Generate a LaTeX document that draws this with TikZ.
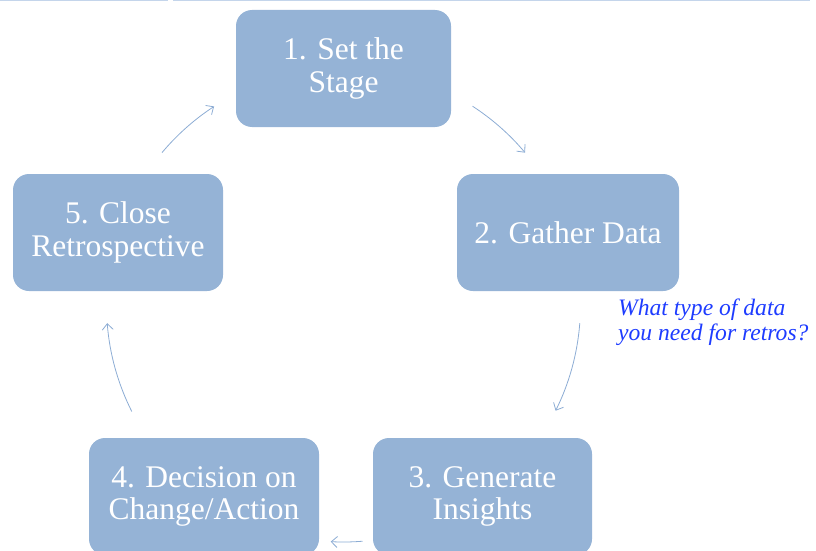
\documentclass[tikz,border=0pt]{standalone}
\usepackage{fontspec}
\setmainfont{Liberation Serif}
\usetikzlibrary{positioning, arrows.meta}
\definecolor{boxblue}{RGB}{149,179,214}
\definecolor{arcblue}{RGB}{140,172,212}
\definecolor{noteblue}{RGB}{30,60,255}
\definecolor{topline}{RGB}{196,213,235}

\begin{document}
\begin{tikzpicture} [x = 1pt, y = 1pt, on grid,
  stage/.style = {rectangle, rounded corners = 16pt, fill = boxblue, text = white,
    minimum height = 117pt, inner sep = 0pt, align = center,
    font = \fontsize{31.5pt}{32.5pt}\selectfont},
  cyclearrow/.style = {draw = arcblue, line width = 0.8pt,
    -{Straight Barb[length = 6pt, width = 11pt]}},
  note/.style = {text = noteblue, align = left, inner sep = 0pt,
    font = \fontsize{23.6pt}{25pt}\selectfont\itshape}]
\useasboundingbox (0,0) rectangle (816,-551);
\draw [topline, line width = 1.5pt] (0,-0.75) -- (168,-0.75);
\draw [topline, line width = 1.5pt] (173,-0.75) -- (810,-0.75);
\node (s1) [stage, minimum width = 215pt] at (343.5,-68.5) {1. Set the\\Stage};
\node (s2) [stage, minimum width = 222pt, below right = 164pt and 224.5pt of s1] {2. Gather Data};
\node (s5) [stage, minimum width = 210pt, below left = 164pt and 225.5pt of s1] {5. Close\\Retrospective};
\node (s3) [stage, minimum width = 219pt, below left = 264pt and 85.5pt of s2] {3. Generate\\Insights};
\node (s4) [stage, minimum width = 230pt, below right = 264pt and 86pt of s5] {4. Decision on\\Change/Action};
\coordinate [below = 236.5pt of s1] (hub);
\node (q) [note, anchor = west] at (618,-322) {What type of data\\you need for retros?};
% arrows round the cycle
\draw [cyclearrow] (hub) ++(57:237) arc [start angle = 57, end angle = 40, radius = 237pt];
\draw [cyclearrow] (hub) ++(-4.4:237) arc [start angle = -4.4, end angle = -26.5, radius = 237pt];
\draw [cyclearrow] (hub) ++(-85.4:237) arc [start angle = -85.4, end angle = -93.1, radius = 237pt];
\draw [cyclearrow] (hub) ++(206.7:237) arc [start angle = 206.7, end angle = 184.4, radius = 237pt];
\draw [cyclearrow] (hub) ++(140:237) arc [start angle = 140, end angle = 123.1, radius = 237pt];
\end{tikzpicture}
\end{document}
